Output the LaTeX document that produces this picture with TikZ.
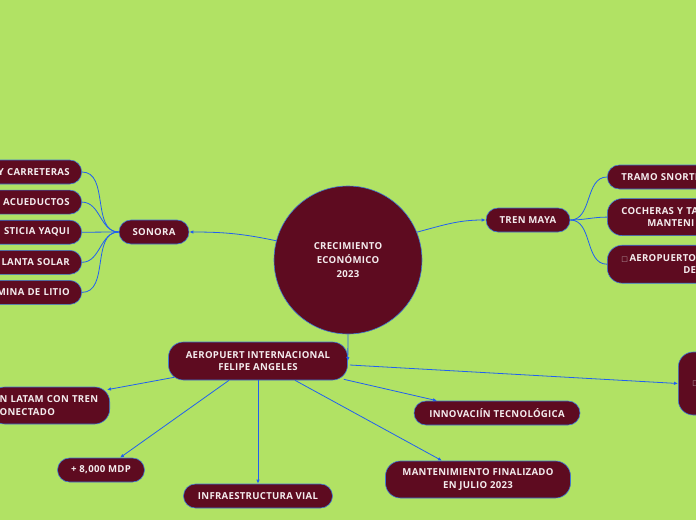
\documentclass[tikz,border=0pt]{standalone}
\usepackage{fontspec}
\setmainfont{Open Sans}[LetterSpace=3]
\newfontfamily\symfont{DejaVu Sans}
\usepackage{xcolor}
\usetikzlibrary{arrows.meta,positioning,calc}
\definecolor{mapbg}{HTML}{B1E264}
\definecolor{ideafill}{HTML}{5E0B20}
\definecolor{ideaedge}{HTML}{3C78D8}
\definecolor{linkblue}{HTML}{2160F0}
\definecolor{ideatext}{HTML}{F4ECEE}
\definecolor{checkgray}{HTML}{B8A0A6}
\newcommand\ideafont{\fontsize{9.6}{12.5}\selectfont\bfseries}
\newcommand\checkbox{{\symfont\fontsize{7}{7}\selectfont\textcolor{checkgray}{□}}}
\tikzset{
  ideabox/.style={draw=ideaedge,fill=ideafill,text=ideatext,rounded corners=12pt,align=center,
    minimum height=24pt,inner xsep=8pt,inner ysep=3pt,font=\ideafont,line width=0.6pt},
  tallbox/.style={ideabox,minimum height=37pt,rounded corners=15pt},
  leftcut/.style={anchor=east,text width=130pt,align=right,inner xsep=12pt},
  rightcut/.style={anchor=west,text width=160pt,align=left,inner xsep=14pt},
  rootcircle/.style={circle,draw=ideaedge,fill=ideafill,text=ideatext,minimum size=148pt,
    align=center,font=\fontsize{9.6}{13.8}\selectfont\bfseries,line width=0.6pt},
  linkarrow/.style={-{Latex[length=4pt,width=3.5pt]},draw=linkblue,line width=0.8pt},
  branchline/.style={draw=linkblue,line width=0.8pt}
}

\begin{document}
\begin{tikzpicture}[x=1pt,y=1pt,node distance=5.5pt and 8pt]
  \fill[mapbg] (0,0) rectangle (696,-520);
  \useasboundingbox (0,0) rectangle (696,-520);
  \node[rootcircle] (ctr) at (348,-260) {CRECIMIENTO\\ECONÓMICO\\2023};
  \node[ideabox,minimum width=70pt] (sonora) at (154,-232) {SONORA};
  \node[ideabox,leftcut] (sonA) at (82,-172) {Y CARRETERAS};
  \node[ideabox,leftcut,below=5.5pt of sonA] (sonB) {ACUEDUCTOS};
  \node[ideabox,leftcut,below=5.5pt of sonB] (sonC) {STICIA YAQUI};
  \node[ideabox,leftcut,below=5.5pt of sonC] (sonD) {LANTA SOLAR};
  \node[ideabox,leftcut,below=5.5pt of sonD] (sonE) {MINA DE LITIO};
  \node[ideabox,minimum width=84pt] (tren) at (528,-220) {TREN MAYA};
  \node[ideabox,rightcut] (tmA) at (607,-177) {TRAMO SNORTE};
  \node[tallbox,rightcut,below=9pt of tmA] (tmB) {COCHERAS Y TA\\\hspace*{26pt}MANTENI};
  \node[tallbox,rightcut,minimum height=38pt,below=9pt of tmB] (tmC)
    {\checkbox\,AEROPUERTO\\\hspace*{62pt}DE};
  \node[tallbox,rightcut,minimum height=63pt] (dest) at (678,-383.5) {\checkbox};
  \node[tallbox,minimum width=179pt,minimum height=38pt] (aifa) at (258,-361)
    {AEROPUERT INTERNACIONAL\\FELIPE ANGELES};
  \node[tallbox,anchor=east,text width=100pt,align=left,inner xsep=10pt] (latam) at (110,-405.5)
    {\mbox{N LATAM CON TREN}\\\mbox{ONECTADO}};
  \node[ideabox,minimum width=87pt] (mdp) at (101,-470) {+ 8,000 MDP};
  \node[ideabox,minimum width=149pt] (vial) at (258,-496) {INFRAESTRUCTURA VIAL};
  \node[ideabox,minimum width=166pt] (innov) at (497,-413) {INNOVACIÍN TECNOLÓGICA};
  \node[tallbox,minimum width=185pt] (mant) at (478,-479.5) {MANTENIMIENTO FINALIZADO\\EN JULIO 2023};
  \draw[linkarrow] (ctr.165) to[out=168,in=0] (sonora.east);
  \draw[linkarrow] (ctr.22) to[out=15,in=180] (tren.west);
  \draw[linkarrow] (ctr.south) -- (aifa.east);
  \foreach \k in {sonA,sonB,sonC,sonD,sonE}
    \draw[branchline] (sonora.west) to[out=180,in=0] (\k.east);
  \foreach \k in {tmA,tmB,tmC}
    \draw[branchline] (tren.east) to[out=0,in=180] (\k.west);
  \draw[linkarrow] ([xshift=6pt,yshift=3pt]aifa.south west) -- ([xshift=-3pt,yshift=-3pt]latam.north east);
  \draw[linkarrow] ([xshift=-29pt]aifa.south) -- ([xshift=19pt]mdp.north);
  \draw[linkarrow] (aifa.south) -- (vial.north);
  \draw[linkarrow] ([xshift=37pt]aifa.south) -- ([xshift=-36pt]mant.north);
  \draw[linkarrow] ([xshift=-4pt,yshift=1pt]aifa.south east) -- ([xshift=-60pt]innov.north);
  \draw[linkarrow] ([xshift=2pt,yshift=-4pt]aifa.east) -- (dest.west);
\end{tikzpicture}
\end{document}
